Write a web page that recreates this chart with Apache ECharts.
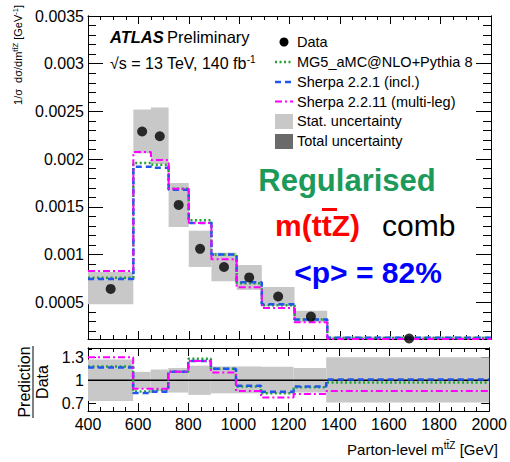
<!DOCTYPE html>
<html>
<head>
<meta charset="utf-8">
<script src="https://cdn.jsdelivr.net/npm/echarts@6/dist/echarts.min.js"></script>
<style>
html, body { margin: 0; padding: 0; background: #fff; }
#chart { width: 510px; height: 462px; }
</style>
</head>
<body>
<div id="chart"></div>
<script>
// bin edges of m(ttZ) in GeV
const binEdges = [400, 580, 650, 720, 800, 890, 990, 1090, 1220, 1350, 2000]

// normalised cross-section, main panel
const dataValues = [0.00064, 0.00229, 0.00224, 0.00152, 0.00106, 0.00087, 0.00076, 0.00056, 0.00035, 0.00012]
const statLow = [0.00048, 0.00206, 0.00195, 0.00129, 0.00087, 0.00072, 0.00063, 0.00046, 0.00029, 0.00010]
const statHigh = [0.00082, 0.00252, 0.00254, 0.00175, 0.00125, 0.00102, 0.00089, 0.00066, 0.00041, 0.00014]
const mg5Values = [0.000757, 0.00196, 0.00194, 0.00169, 0.00136, 0.00100, 0.00070, 0.00047, 0.00032, 0.000125]
const sherpa221Values = [0.000744, 0.00192, 0.00191, 0.00168, 0.00133, 0.00100, 0.00071, 0.00048, 0.00032, 0.000128]
const sherpa2211Values = [0.000828, 0.002075, 0.00199, 0.00169, 0.00133, 0.00095, 0.000657, 0.00044, 0.00029, 0.000115]

// prediction / data, ratio panel
const ratioStatLow = [0.73, 0.89, 0.86, 0.84, 0.81, 0.83, 0.83, 0.825, 0.84, 0.71]
const ratioStatHigh = [1.27, 1.11, 1.14, 1.16, 1.19, 1.18, 1.18, 1.175, 1.16, 1.30]
const ratioMg5 = [1.18, 0.855, 0.87, 1.11, 1.28, 1.15, 0.92, 0.83, 0.91, 0.97]
const ratioSherpa221 = [1.165, 0.835, 0.85, 1.11, 1.25, 1.15, 0.93, 0.85, 0.92, 1.01]
const ratioSherpa2211 = [1.30, 0.89, 0.89, 1.11, 1.25, 1.10, 0.86, 0.775, 0.82, 0.86]

// tick labels
const mainYTicks = [0.0005, 0.001, 0.0015, 0.002, 0.0025, 0.003, 0.0035]
const mainYLabels = ['0.0005', '0.001', '0.0015', '0.002', '0.0025', '0.003', '0.0035']
const ratioYTicks = [0.7, 1, 1.3]
const ratioYLabels = ['0.7', '1', '1.3']

const mainYMin = 0.000115
const mainYMax = 0.0035
const ratioYMin = 0.6
const ratioYMax = 1.42

const mainYMinor = []
for (let i = 2; i <= 34; i++) {
	if (i % 5 !== 0) mainYMinor.push(i / 10000)
}
const ratioYMinor = [0.8, 0.9, 1.1, 1.2, 1.4]

const green = '#22a033'
const blue = '#2255ee'
const magenta = '#ff00ff'
const statGrey = '#c8c8c8'
const font = '"Liberation Sans", Arial, sans-serif'

function stepPoints(values) {
	const pts = []
	values.forEach((v, i) => {
		pts.push([binEdges[i], v], [binEdges[i + 1], v])
	})
	return pts
}

function boxRows(low, high) {
	return low.map((lo, i) => [binEdges[i], binEdges[i + 1], lo, high[i]])
}

function boxItem(params, api) {
	const p0 = api.coord([api.value(0), api.value(3)])
	const p1 = api.coord([api.value(1), api.value(2)])
	const shape = echarts.graphic.clipRectByRect(
		{ x: p0[0], y: p0[1], width: p1[0] - p0[0], height: p1[1] - p0[1] },
		{ x: params.coordSys.x, y: params.coordSys.y, width: params.coordSys.width, height: params.coordSys.height }
	)
	return shape && { type: 'rect', shape: shape, style: { fill: statGrey } }
}

function xAxisFor(gridIndex, position, showLabel) {
	return {
		type: 'value', gridIndex, position, min: 400, max: 2000, interval: 200,
		axisLine: { show: true, onZero: false, lineStyle: { color: '#000', width: 1 } },
		axisTick: { show: true, inside: true, length: 8, lineStyle: { color: '#000' } },
		minorTick: { show: true, splitNumber: 4, length: 4, lineStyle: { color: '#000' } },
		splitLine: { show: false },
		axisLabel: { show: showLabel, color: '#000', fontSize: 16, fontFamily: font, margin: 5, formatter: v => String(v) }
	}
}

function yAxisFor(gridIndex, position, min, max, ticks, len, labels) {
	return {
		type: 'value', gridIndex, position, min, max,
		axisLine: { show: true, onZero: false, lineStyle: { color: '#000', width: 1 } },
		axisTick: { show: true, inside: true, length: len, customValues: ticks, lineStyle: { color: '#000' } },
		splitLine: { show: false },
		axisLabel: labels ? {
			show: true, customValues: ticks, color: '#000', fontSize: 16, fontFamily: font, margin: 4,
			formatter: v => labels[ticks.findIndex(t => Math.abs(t - v) < 1e-9)] ?? ''
		} : { show: false }
	}
}

function stepLine(name, values, color, dash, width, xi, yi) {
	return {
		name, type: 'line', xAxisIndex: xi, yAxisIndex: yi, data: stepPoints(values),
		showSymbol: false, symbol: 'none', animation: false, silent: true,
		lineStyle: { color, width, type: dash }
	}
}

const chart = echarts.init(document.getElementById('chart'), null, { renderer: 'svg' })

const option = {
	animation: false,
	backgroundColor: '#fff',
	grid: [
		{ left: 88, right: 19, top: 16, height: 323 },
		{ left: 88, right: 19, top: 348, height: 63 }
	],
	xAxis: [
		xAxisFor(0, 'bottom', false),
		xAxisFor(0, 'top', false),
		xAxisFor(1, 'bottom', true),
		xAxisFor(1, 'top', false)
	],
	yAxis: [
		yAxisFor(0, 'left', mainYMin, mainYMax, mainYTicks, 15, mainYLabels),
		yAxisFor(0, 'left', mainYMin, mainYMax, mainYMinor, 8, null),
		yAxisFor(0, 'right', mainYMin, mainYMax, mainYTicks, 15, null),
		yAxisFor(0, 'right', mainYMin, mainYMax, mainYMinor, 8, null),
		yAxisFor(1, 'left', ratioYMin, ratioYMax, ratioYTicks, 8, ratioYLabels),
		yAxisFor(1, 'left', ratioYMin, ratioYMax, ratioYMinor, 4, null),
		yAxisFor(1, 'right', ratioYMin, ratioYMax, ratioYTicks, 8, null),
		yAxisFor(1, 'right', ratioYMin, ratioYMax, ratioYMinor, 4, null)
	],
	series: [
		{
			name: 'Stat. uncertainty', type: 'custom', xAxisIndex: 0, yAxisIndex: 0,
			data: boxRows(statLow, statHigh), renderItem: boxItem, encode: { x: [0, 1], y: [2, 3] }, z: 1, silent: true
		},
		stepLine('MG5_aMC@NLO+Pythia 8', mg5Values, green, [2, 2.5], 2.5, 0, 0),
		stepLine('Sherpa 2.2.1 (incl.)', sherpa221Values, blue, [6, 4], 2.5, 0, 0),
		stepLine('Sherpa 2.2.11 (multi-leg)', sherpa2211Values, magenta, [7, 3, 2, 3], 2, 0, 0),
		{
			name: 'Data', type: 'scatter', xAxisIndex: 0, yAxisIndex: 0,
			data: dataValues.map((v, i) => [(binEdges[i] + binEdges[i + 1]) / 2, v]),
			symbol: 'circle', symbolSize: 10, itemStyle: { color: '#000' }, z: 5, silent: true
		},
		{
			name: 'Ratio stat', type: 'custom', xAxisIndex: 2, yAxisIndex: 4,
			data: boxRows(ratioStatLow, ratioStatHigh), renderItem: boxItem, encode: { x: [0, 1], y: [2, 3] }, z: 1, silent: true
		},
		{
			name: 'Unity', type: 'line', xAxisIndex: 2, yAxisIndex: 4, data: [[400, 1], [2000, 1]],
			showSymbol: false, symbol: 'none', lineStyle: { color: '#000', width: 1.5 }, silent: true
		},
		stepLine('MG5 ratio', ratioMg5, green, [2, 2.5], 2.5, 2, 4),
		stepLine('Sherpa 2.2.1 ratio', ratioSherpa221, blue, [6, 4], 2.5, 2, 4),
		stepLine('Sherpa 2.2.11 ratio', ratioSherpa2211, magenta, [7, 3, 2, 3], 2, 2, 4)
	],
	graphic: [
		// y axis titles
		{
			type: 'text', x: 18, y: 55, rotation: Math.PI / 2,
			style: {
				text: '{n|1/σ  dσ/dm}{s|tt̄Z}{n| [GeV}{s|-1}{n|]}',
				textAlign: 'center', textVerticalAlign: 'middle',
				rich: {
					n: { fontSize: 11, fontFamily: font, fill: '#000' },
					s: { fontSize: 7.5, fontFamily: font, fill: '#000', verticalAlign: 'top', padding: [0, 0, 6, 0] }
				}
			}
		},
		{
			type: 'group', x: 32, y: 382, rotation: Math.PI / 2,
			children: [
				{ type: 'text', x: 0, y: -8, style: { text: 'Prediction', font: '16px ' + font, fill: '#000', textAlign: 'center', textVerticalAlign: 'middle' } },
				{ type: 'line', shape: { x1: -36, y1: 1, x2: 36, y2: 1 }, style: { stroke: '#000', lineWidth: 1 } },
				{ type: 'text', x: 0, y: 10, style: { text: 'Data', font: '16px ' + font, fill: '#000', textAlign: 'center', textVerticalAlign: 'middle' } }
			]
		},
		// x axis title
		{
			type: 'text', right: 12, top: 440,
			style: {
				text: '{n|Parton-level m}{s|tt̄Z}{n| [GeV]}',
				rich: {
					n: { fontSize: 15, fontFamily: font, fill: '#000' },
					s: { fontSize: 10, fontFamily: font, fill: '#000', verticalAlign: 'top', padding: [0, 0, 8, 0] }
				}
			}
		},
		// ATLAS label
		{
			type: 'text', x: 110, y: 37,
			style: {
				text: '{a|ATLAS} {b|Preliminary}', textVerticalAlign: 'middle',
				rich: {
					a: { fontSize: 16.5, fontWeight: 'bold', fontStyle: 'italic', fontFamily: font, fill: '#000' },
					b: { fontSize: 16.5, fontFamily: font, fill: '#000' }
				}
			}
		},
		{
			type: 'text', x: 110, y: 63,
			style: {
				text: '{n|√s = 13 TeV, 140 fb}{s|-1}', textVerticalAlign: 'middle',
				rich: {
					n: { fontSize: 16, fontFamily: font, fill: '#000' },
					s: { fontSize: 10, fontFamily: font, fill: '#000', verticalAlign: 'top', padding: [0, 0, 8, 0] }
				}
			}
		},
		// legend
		{ type: 'circle', shape: { cx: 284, cy: 42, r: 4.5 }, style: { fill: '#000' } },
		{ type: 'text', x: 297, y: 42, style: { text: 'Data', font: '14.5px ' + font, fill: '#000', textVerticalAlign: 'middle' } },
		{ type: 'line', shape: { x1: 275, y1: 62, x2: 293, y2: 62 }, style: { stroke: green, lineWidth: 2.5, lineDash: [2, 2.5] } },
		{ type: 'text', x: 297, y: 62, style: { text: 'MG5_aMC@NLO+Pythia 8', font: '14.5px ' + font, fill: '#000', textVerticalAlign: 'middle' } },
		{ type: 'line', shape: { x1: 275, y1: 82, x2: 293, y2: 82 }, style: { stroke: blue, lineWidth: 2.5, lineDash: [6, 4] } },
		{ type: 'text', x: 297, y: 82, style: { text: 'Sherpa 2.2.1 (incl.)', font: '14.5px ' + font, fill: '#000', textVerticalAlign: 'middle' } },
		{ type: 'line', shape: { x1: 275, y1: 101.5, x2: 293, y2: 101.5 }, style: { stroke: magenta, lineWidth: 2, lineDash: [7, 3, 2, 3] } },
		{ type: 'text', x: 297, y: 101.5, style: { text: 'Sherpa 2.2.11 (multi-leg)', font: '14.5px ' + font, fill: '#000', textVerticalAlign: 'middle' } },
		{ type: 'rect', shape: { x: 275, y: 114, width: 18, height: 15 }, style: { fill: statGrey } },
		{ type: 'text', x: 297, y: 121, style: { text: 'Stat. uncertainty', font: '14.5px ' + font, fill: '#000', textVerticalAlign: 'middle' } },
		{ type: 'rect', shape: { x: 275, y: 134, width: 18, height: 15 }, style: { fill: '#6a6a6a' } },
		{ type: 'text', x: 297, y: 141, style: { text: 'Total uncertainty', font: '14.5px ' + font, fill: '#000', textVerticalAlign: 'middle' } },
		// annotations
		{ type: 'text', x: 347, y: 180, style: { text: 'Regularised', font: 'bold 31px ' + font, fill: '#1b9a5a', textAlign: 'center', textVerticalAlign: 'middle' } },
		{ type: 'text', x: 275, y: 225, style: { text: 'm(ttZ)', font: 'bold 30px ' + font, fill: '#ff0000', textVerticalAlign: 'middle' } },
		{ type: 'rect', shape: { x: 322, y: 208, width: 15, height: 3 }, style: { fill: '#ff0000' } },
		{ type: 'text', x: 382, y: 225, style: { text: 'comb', font: '30px ' + font, fill: '#000', textVerticalAlign: 'middle' } },
		{ type: 'text', x: 368, y: 272, style: { text: '<p> = 82%', font: 'bold 30px ' + font, fill: '#0000ff', textAlign: 'center', textVerticalAlign: 'middle' } }
	]
}

chart.setOption(option)
</script>
</body>
</html>
